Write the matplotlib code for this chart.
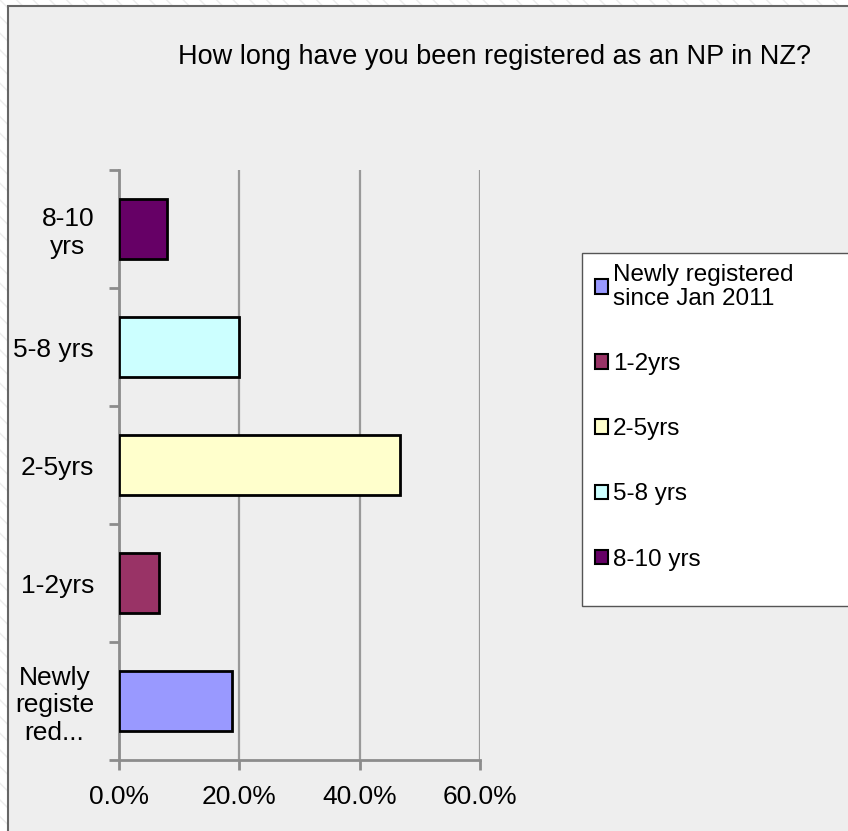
import numpy as np
import matplotlib.pyplot as plt
from matplotlib.patches import Rectangle

# data (share of respondents)
categories = ["Newly registered\nsince Jan 2011", "1-2yrs", "2-5yrs", "5-8 yrs", "8-10 yrs"]
tick_labels = ["Newly\nregiste\nred...", "1-2yrs", "2-5yrs", "5-8 yrs", "8-10\nyrs"]
values = [0.187, 0.067, 0.467, 0.200, 0.080]
colors = ["#9999FF", "#993366", "#FFFFCC", "#CCFFFF", "#660066"]
xticks = [0.0, 0.2, 0.4, 0.6]

plt.rcParams['font.family'] = ['Liberation Sans', 'DejaVu Sans']

W, H = 848, 831
fig = plt.figure(figsize=(W / 100, H / 100), dpi=100)
fig.patch.set_facecolor('white')

# faint hatched page background and the grey chart panel
fig.patches.append(Rectangle((0, 0), 1, 1, transform=fig.transFigure,
                             facecolor='white', edgecolor='#ececec', hatch='\\\\',
                             linewidth=0, zorder=-3))
fig.patches.append(Rectangle((8 / W, -0.1), 1.2, 1.1 - 6 / H, transform=fig.transFigure,
                             facecolor='#eeeeee', edgecolor='#666666', linewidth=1.5,
                             zorder=-2))

ax = fig.add_axes([119 / W, 1 - 760 / H, (480 - 119) / W, (760 - 170) / H])
ax.set_facecolor('none')

y = np.arange(len(values))
for i in range(len(values)):
    ax.barh(y[i], values[i], height=0.51, color=colors[i], edgecolor='black',
            linewidth=2, label=categories[i], zorder=3)

ax.set_xlim(0, 0.6)
ax.set_ylim(-0.5, len(values) - 0.5)

ax.set_xticks(xticks)
ax.set_xticklabels([f"{v * 100:.1f}%" for v in xticks], fontsize=19)
ax.set_yticks(y)
ax.set_yticklabels(tick_labels, fontsize=19, ma='center')
ax.set_yticks(np.arange(-0.5, len(values), 1), minor=True)

ax.tick_params(axis='y', which='major', length=0, pad=18)
ax.tick_params(axis='y', which='minor', length=7, width=2, color='#8c8c8c')
ax.tick_params(axis='x', length=7, width=2, color='#8c8c8c', pad=11)

ax.xaxis.grid(True, color='#999999', linewidth=1.6, zorder=0)
ax.set_axisbelow(True)
for s in ['top', 'right']:
    ax.spines[s].set_visible(False)
for s in ['left', 'bottom']:
    ax.spines[s].set_color('#8c8c8c')
    ax.spines[s].set_linewidth(2)

fig.text(495 / W, 1 - 57 / H, "How long have you been registered as an NP in NZ?",
         ha='center', va='center', fontsize=19.5)

# legend box
fig.patches.append(Rectangle((582 / W, 1 - 606 / H), 0.5, (606 - 253) / H,
                             transform=fig.transFigure, facecolor='white',
                             edgecolor='#555555', linewidth=1, zorder=1))
leg = fig.legend(loc='upper left', bbox_to_anchor=(595 / W, 1 - 264 / H),
                 frameon=False, fontsize=17.5, handlelength=0.55, handleheight=0.55,
                 handletextpad=0.2, labelspacing=1.78, borderpad=0, borderaxespad=0)
leg.set_zorder(2)
leg.get_texts()[0].set_linespacing(1.1)
for h in leg.legend_handles:
    h.set_linewidth(1.5)

fig.savefig("out.png", dpi=100)
